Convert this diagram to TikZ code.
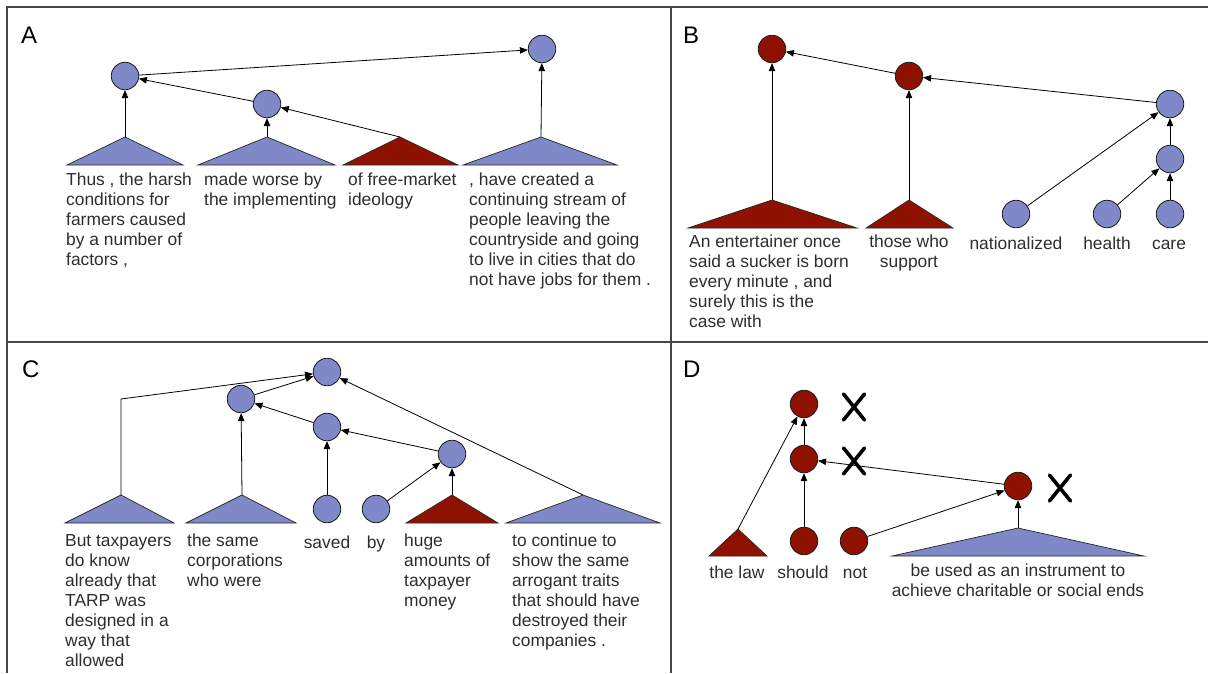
\documentclass[tikz,border=0pt]{standalone}
\usepackage{fontspec}
\setmainfont{Liberation Sans}
\usetikzlibrary{arrows.meta}
\definecolor{nblue}{RGB}{128,137,200}
\definecolor{nred}{RGB}{143,18,0}
\definecolor{tgray}{RGB}{45,45,45}
\definecolor{fgray}{RGB}{70,70,70}
\begin{document}
\begin{tikzpicture}[x=1pt,y=-1pt,
  bn/.style={circle, draw=black!90, fill=nblue, minimum size=27.5pt, inner sep=0pt, line width=0.8pt},
  rn/.style={bn, fill=nred},
  arr/.style={-{Triangle[length=8pt,width=6.5pt]}, line width=0.8pt, draw=black},
  btri/.style={fill=nblue, draw=black!85, line width=0.7pt},
  rtri/.style={fill=nred, draw=black!85, line width=0.7pt},
  frame/.style={draw=fgray, line width=1.2pt},
  lbl/.style={font=\fontsize{17.4}{20}\selectfont, text=tgray, inner sep=0pt, align=left, anchor=north west, execute at begin node={\strut}},
  clbl/.style={lbl, align=center, anchor=north},
  plabel/.style={font=\fontsize{24}{28}\selectfont, text=black, inner sep=0pt, anchor=base west},
  xstroke/.style={draw=black, line width=3.6pt, line cap=round}
]
\useasboundingbox (0,0) rectangle (1208,673);
% frame
\draw[frame] (7,673) -- (7,7) -- (1208,7);
\draw[frame] (7,342) -- (1208,342);
\draw[frame] (671,7) -- (671,673);
% panel labels
\node[plabel] (labA) at (21,43) {A};
\node[plabel] (labB) at (683,43) {B};
\node[plabel] (labC) at (22,377) {C};
\node[plabel] (labD) at (683,377) {D};

% ---------- Panel A ----------
\node[bn] (A1) at (125,76) {};
\node[bn] (A2) at (267,104) {};
\node[bn] (A3) at (542,49) {};
\coordinate (tA1) at (125,137);
\coordinate (tA2) at (267,137);
\coordinate (tA3) at (400,137);
\coordinate (tA4) at (541,137);
\filldraw[btri] (tA1) -- (183,165) -- (67,165) -- cycle;
\filldraw[btri] (tA2) -- (335,165) -- (198,165) -- cycle;
\filldraw[rtri] (tA3) -- (458,165) -- (343,165) -- cycle;
\filldraw[btri] (tA4) -- (617,165) -- (463,165) -- cycle;
\draw[arr] (tA1) -- (A1);
\draw[arr] (tA2) -- (A2);
\draw[arr] (tA3) -- (A2);
\draw[arr] (A2) -- (A1);
\draw[arr] (A1) -- (A3);
\draw[arr] (tA4) -- (A3);
\node[lbl] (xA1) at (66,173) {Thus , the harsh\\conditions for\\farmers caused\\by a number of\\factors ,};
\node[lbl] (xA2) at (204,173) {made worse by\\the implementing};
\node[lbl] (xA3) at (348,173) {of free-market\\ideology};
\node[lbl] (xA4) at (469,173) {, have created a\\continuing stream of\\people leaving the\\countryside and going\\to live in cities that do\\not have jobs for them .};

% ---------- Panel B ----------
\node[rn] (B1) at (772,49) {};
\node[rn] (B2) at (909,76) {};
\node[bn] (B3) at (1170,104) {};
\node[bn] (B4) at (1170,159) {};
\node[bn] (B5) at (1170,214) {};
\node[bn] (B6) at (1107,214) {};
\node[bn] (B7) at (1016,214) {};
\coordinate (tB1) at (772,200);
\coordinate (tB2) at (909,200);
\filldraw[rtri] (tB1) -- (857,228) -- (688,228) -- cycle;
\filldraw[rtri] (tB2) -- (953,228) -- (866,228) -- cycle;
\draw[arr] (tB1) -- (B1);
\draw[arr] (tB2) -- (B2);
\draw[arr] (B2) -- (B1);
\draw[arr] (B3) -- (B2);
\draw[arr] (B7) -- (B3);
\draw[arr] (B4) -- (B3);
\draw[arr] (B6) -- (B4);
\draw[arr] (B5) -- (B4);
\node[lbl] (xB1) at (689,235) {An entertainer once\\said a sucker is born\\every minute , and\\surely this is the\\case with};
\node[clbl] (xB2) at (909,235) {those who\\support};
\node[clbl] (xB7) at (1016,235) {nationalized};
\node[clbl] (xB6) at (1107,235) {health};
\node[clbl] (xB5) at (1169,235) {care};

% ---------- Panel C ----------
\node[bn] (C1) at (327,372) {};
\node[bn] (C2) at (241,399) {};
\node[bn] (C3) at (327,427) {};
\node[bn] (C4) at (327,509) {};
\node[bn] (C5) at (376,509) {};
\node[bn] (C6) at (452,454) {};
\coordinate (tC1) at (121,495);
\coordinate (bC1) at (121,399);
\coordinate (tC2) at (242,495);
\coordinate (tC3) at (452,495);
\coordinate (tC4) at (583,495);
\filldraw[btri] (tC1) -- (174,523) -- (65,523) -- cycle;
\filldraw[btri] (tC2) -- (296,523) -- (186,523) -- cycle;
\filldraw[rtri] (tC3) -- (498,523) -- (406,523) -- cycle;
\filldraw[btri] (tC4) -- (660,523) -- (506,523) -- cycle;
\draw[arr] (tC1) -- (bC1) -- (C1);
\draw[arr] (C2) -- (C1);
\draw[arr] (tC2) -- (C2);
\draw[arr] (C3) -- (C2);
\draw[arr] (C4) -- (C3);
\draw[arr] (C6) -- (C3);
\draw[arr] (C5) -- (C6);
\draw[arr] (tC3) -- (C6);
\draw[arr] (tC4) -- (C1);
\node[lbl] (xC1) at (65,534) {But taxpayers\\do know\\already that\\TARP was\\designed in a\\way that\\allowed};
\node[lbl] (xC2) at (187,534) {the same\\corporations\\who were};
\node[clbl] (xC4) at (327,534) {saved};
\node[clbl] (xC5) at (376,534) {by};
\node[lbl] (xC3) at (404,534) {huge\\amounts of\\taxpayer\\money};
\node[lbl] (xC6) at (512,534) {to continue to\\show the same\\arrogant traits\\that should have\\destroyed their\\companies .};

% ---------- Panel D ----------
\node[rn] (D1) at (804,404) {};
\node[rn] (D2) at (804,459) {};
\node[rn] (D3) at (804,541) {};
\node[rn] (D4) at (854,541) {};
\node[rn] (D5) at (1018,486) {};
\coordinate (tD1) at (738,529);
\coordinate (tD2) at (1018,528);
\filldraw[rtri] (tD1) -- (767,556) -- (709,556) -- cycle;
\filldraw[btri] (tD2) -- (1144,556) -- (892,556) -- cycle;
\draw[arr] (tD1) -- (D1);
\draw[arr] (D2) -- (D1);
\draw[arr] (D3) -- (D2);
\draw[arr] (D5) -- (D2);
\draw[arr] (D4) -- (D5);
\draw[arr] (tD2) -- (D5);
% cross marks
\coordinate (X1) at (854,407);
\coordinate (X2) at (854,461);
\coordinate (X3) at (1060,488);
\foreach \c in {X1,X2,X3}{
  \draw[xstroke] ([shift={(-10.5,-13)}]\c) -- ([shift={(10.5,13)}]\c);
  \draw[xstroke] ([shift={(10.5,-13)}]\c) -- ([shift={(-10.5,13)}]\c);
}
\node[clbl] (xD1) at (737,564) {the law};
\node[clbl] (xD3) at (803,564) {should};
\node[clbl] (xD4) at (855,564) {not};
\node[clbl] (xD2) at (1018,564) {be used as an instrument to\\achieve charitable or social ends};
\end{tikzpicture}
\end{document}
